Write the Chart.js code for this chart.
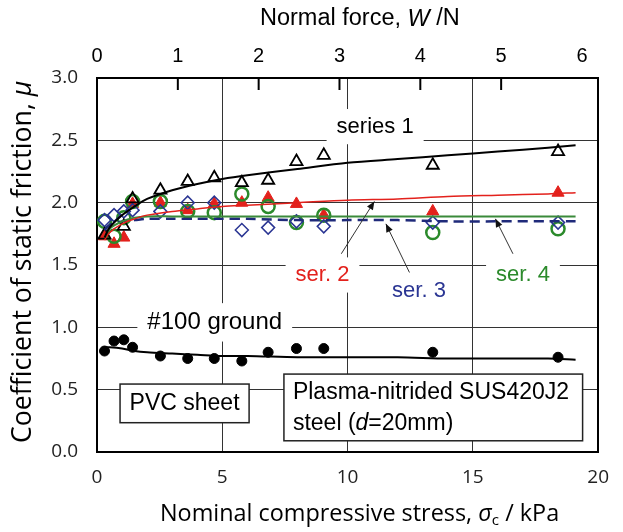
<!DOCTYPE html>
<html>
<head>
<meta charset="utf-8">
<script src="https://cdn.jsdelivr.net/npm/chart.js@4.4.1/dist/chart.umd.min.js"></script>
<style>
  html, body { margin: 0; padding: 0; background: #fff; }
  #wrap { width: 623px; height: 532px; }
</style>
</head>
<body>
<div id="wrap"><canvas id="myChart" width="623" height="532"></canvas></div>
<script>
// measured points (nominal stress in kPa)
var sigma = [0.3, 0.68, 1.07, 1.42, 2.53, 3.62, 4.68, 5.78, 6.83, 7.96, 9.05, 13.4, 18.4];
var series1 = [1.74, null, 1.81, 2.03, 2.10, 2.17, 2.20, 2.16, 2.18, 2.33, 2.38, 2.30, 2.41];
var series2 = [1.73, 1.67, 1.72, 1.99, 2.00, 1.94, 1.99, 2.00, 2.04, 1.99, 1.90, 1.93, 2.08];
var series3 = [1.86, 1.90, 1.93, 1.94, 1.93, 2.00, 2.00, 1.78, 1.80, 1.85, 1.81, 1.84, 1.84];
var series4 = [1.85, 1.73, 1.88, 2.01, 2.01, 1.93, 1.92, 2.07, 1.97, 1.84, 1.90, 1.76, 1.79];
var ground  = [0.81, 0.89, 0.90, 0.84, 0.77, 0.75, 0.75, 0.73, 0.80, 0.83, 0.83, 0.80, 0.76];

// fitted curves
var fitSigma = [0.3, 0.5, 1, 1.5, 2, 3, 4, 5, 6, 8, 10, 12, 14, 16, 18, 19.1];
var fit1 = [1.72, 1.80, 1.90, 1.97, 2.03, 2.10, 2.15, 2.19, 2.22, 2.27, 2.32, 2.35, 2.38, 2.41, 2.44, 2.46];
var fit2 = [1.70, 1.76, 1.83, 1.87, 1.90, 1.93, 1.95, 1.97, 1.98, 2.00, 2.02, 2.03, 2.05, 2.06, 2.07, 2.08];
var fit3 = [1.78, 1.82, 1.85, 1.86, 1.87, 1.87, 1.87, 1.87, 1.87, 1.86, 1.86, 1.86, 1.85, 1.85, 1.85, 1.85];
var fit4 = [1.72, 1.79, 1.85, 1.88, 1.89, 1.89, 1.89, 1.89, 1.89, 1.89, 1.89, 1.89, 1.89, 1.89, 1.89, 1.89];
var fitG = [0.84, 0.84, 0.83, 0.81, 0.80, 0.79, 0.78, 0.77, 0.77, 0.76, 0.76, 0.76, 0.75, 0.75, 0.75, 0.74];

var forceTicks = [0, 1, 2, 3, 4, 5, 6];
var forceMax = 6.2;

function pts(xs, ys) {
    return xs.map(function (x, i) { return { x: x, y: ys[i] }; });
}

var ARIAL = "'Liberation Sans', Arial, sans-serif";
var CAL = "'Open Sans', 'Noto Sans', sans-serif";

function fitLine(data, color, width, dash) {
    return {
        type: "line",
        data: data,
        borderColor: color,
        borderWidth: width,
        borderDash: dash || [],
        pointRadius: 0,
        fill: false,
        tension: 0.3
    };
}

function marks(data, style, stroke, fillc, radius, bw) {
    return {
        type: "scatter",
        data: data,
        pointStyle: style,
        borderColor: stroke,
        backgroundColor: fillc,
        pointRadius: radius,
        pointBorderWidth: bw,
        showLine: false
    };
}

// annotations, boxes and axis titles
var extras = {
    id: "extras",
    afterDatasetsDraw: function (chart) {
        var c = chart.ctx, xs = chart.scales.x, ys = chart.scales.y, top = chart.scales.x2;
        var area = chart.chartArea;
        function px(v) { return xs.getPixelForValue(v); }
        function py(v) { return ys.getPixelForValue(v); }

        // inner tick marks of the force axis
        c.save();
        c.strokeStyle = "#000";
        c.lineWidth = 2;
        for (var t = 1; t <= 5; t++) {
            var tx = top.getPixelForValue(t);
            c.beginPath(); c.moveTo(tx, area.top); c.lineTo(tx, area.top + 12); c.stroke();
        }
        c.restore();

        function label(text, x, y, color, size) {
            c.save();
            c.font = size + "px " + ARIAL;
            var w = c.measureText(text).width;
            c.fillStyle = "#fff";
            c.fillRect(x - w / 2 - 10, y - size * 0.8, w + 20, size * 1.6);
            c.fillStyle = color;
            c.textAlign = "center";
            c.textBaseline = "middle";
            c.fillText(text, x, y);
            c.restore();
        }
        function arrow(x0, y0, x1, y1) {
            var ax = px(x0), ay = py(y0), bx = px(x1), by = py(y1);
            var ang = Math.atan2(by - ay, bx - ax);
            c.save();
            c.strokeStyle = "#333"; c.fillStyle = "#111"; c.lineWidth = 1;
            c.beginPath(); c.moveTo(ax, ay); c.lineTo(bx, by); c.stroke();
            c.beginPath();
            c.moveTo(bx, by);
            c.lineTo(bx - 9 * Math.cos(ang - 0.4), by - 9 * Math.sin(ang - 0.4));
            c.lineTo(bx - 9 * Math.cos(ang + 0.4), by - 9 * Math.sin(ang + 0.4));
            c.closePath(); c.fill();
            c.restore();
        }
        function box(x0, y0, x1, y1) {
            c.save();
            c.fillStyle = "#fff";
            c.fillRect(x0, y0, x1 - x0, y1 - y0);
            c.strokeStyle = "#222"; c.lineWidth = 1.5;
            c.strokeRect(x0, y0, x1 - x0, y1 - y0);
            c.restore();
        }

        label("series 1", px(11.1), py(2.61), "#000", 22);
        label("ser. 2", px(9.0), py(1.42), "#e3211c", 22);
        label("ser. 3", px(12.85), py(1.29), "#2a3593", 22);
        label("ser. 4", px(17.0), py(1.42), "#2b8a2b", 22);
        label("#100 ground", px(4.7), py(1.04), "#000", 24);

        arrow(9.75, 1.59, 11.07, 2.01);
        arrow(12.47, 1.44, 11.53, 1.83);
        arrow(16.6, 1.59, 15.9, 1.87);

        // sample boxes
        box(px(0.92), py(0.545), px(6.07), py(0.235));
        box(px(7.46), py(0.625), px(19.38), py(0.09));
        c.save();
        c.fillStyle = "#000";
        c.textBaseline = "middle";
        c.font = "23px " + ARIAL;
        c.textAlign = "center";
        c.fillText("PVC sheet", (px(0.92) + px(6.07)) / 2, py(0.39));
        c.textAlign = "left";
        var lx = px(7.46) + 9;
        c.fillText("Plasma-nitrided SUS420J2", lx, py(0.48));
        var yy = py(0.23);
        var s1 = "steel (";
        c.fillText(s1, lx, yy);
        var w = c.measureText(s1).width;
        c.font = "italic 23px " + ARIAL;
        c.fillText("d", lx + w, yy);
        w += c.measureText("d").width;
        c.font = "23px " + ARIAL;
        c.fillText("=20mm)", lx + w, yy);
        c.restore();
    },
    afterDraw: function (chart) {
        var c = chart.ctx;
        // runs of text with mixed styles, sized to a target width
        function runs(parts, cx, cy, target) {
            var total = 0;
            parts.forEach(function (p) { c.font = p.s + " 20px " + p.f; total += c.measureText(p.t).width * p.k; });
            var k = target / total;
            var x = cx - target / 2;
            parts.forEach(function (p) {
                c.font = p.s + " " + (20 * k * p.k).toFixed(1) + "px " + p.f;
                c.fillText(p.t, x, cy + (p.dy || 0) * k);
                x += c.measureText(p.t).width;
            });
        }
        c.save();
        c.fillStyle = "#000";
        c.textBaseline = "middle";
        c.textAlign = "left";
        runs([
            { t: "Normal force, ", s: "", f: ARIAL, k: 1 },
            { t: "W", s: "italic", f: ARIAL, k: 1 },
            { t: " /N", s: "", f: ARIAL, k: 1 }
        ], 360, 19, 200);
        runs([
            { t: "Nominal compressive stress, ", s: "", f: CAL, k: 1 },
            { t: "σ", s: "italic", f: CAL, k: 1 },
            { t: "c", s: "", f: CAL, k: 0.65, dy: 6 },
            { t: " / kPa", s: "", f: CAL, k: 1 }
        ], 360, 514, 400);
        c.translate(23, 262);
        c.rotate(-Math.PI / 2);
        runs([
            { t: "Coefficient of static friction, ", s: "", f: CAL, k: 1 },
            { t: "μ", s: "italic", f: CAL, k: 1 }
        ], 0, 0, 362);
        c.restore();
    }
};

var ctx = document.getElementById("myChart").getContext("2d");

var myChart = new Chart(ctx, {
    type: "scatter",
    data: {
        datasets: [
            fitLine(pts(fitSigma, fit1), "#000", 2),
            fitLine(pts(fitSigma, fit2), "#e3211c", 1.5),
            fitLine(pts(fitSigma, fit4), "#3a8a3a", 2),
            fitLine(pts(fitSigma, fit3), "#1f2a7a", 2.5, [10, 6]),
            fitLine(pts(fitSigma, fitG), "#000", 2),
            marks(pts(sigma, series1), "triangle", "#000", "transparent", 7, 1.8),
            marks(pts(sigma, series3), "rectRot", "#2a3593", "transparent", 6.5, 1.5),
            marks(pts(sigma, series4), "circle", "#2b8a2b", "transparent", 6.5, 2.5),
            marks(pts(sigma, series2), "triangle", "#e3211c", "#e3211c", 7, 1),
            marks(pts(sigma, ground), "circle", "#000", "#000", 5, 1)
        ]
    },
    options: {
        responsive: false,
        animation: false,
        layout: { padding: { right: 11, left: 0, top: 0, bottom: 0 } },
        plugins: {
            legend: { display: false },
            tooltip: { enabled: false }
        },
        scales: {
            x: {
                type: "linear",
                position: "bottom",
                min: 0, max: 20,
                afterFit: function (s) { s.height = 80; },
                ticks: { stepSize: 5, padding: 14, color: "#222", font: { family: CAL, size: 19 } },
                grid: { color: "#333", lineWidth: 1, drawTicks: false },
                border: { color: "#000", width: 2 }
            },
            x2: {
                type: "linear",
                position: "top",
                min: 0, max: forceMax,
                afterFit: function (s) { s.height = 78; },
                afterBuildTicks: function (s) {
                    s.ticks = forceTicks.map(function (v) { return { value: v }; });
                },
                ticks: { padding: 10, color: "#000", font: { family: ARIAL, size: 20 } },
                grid: { display: false, drawTicks: false },
                border: { color: "#000", width: 2 }
            },
            y: {
                min: 0, max: 3,
                afterFit: function (s) { s.width = 97; },
                ticks: { stepSize: 0.5, padding: 19, color: "#222", font: { family: CAL, size: 19 },
                    callback: function (v) { return v.toFixed(1); } },
                grid: { color: "#333", lineWidth: 1, drawTicks: false },
                border: { color: "#000", width: 2 }
            },
            y2: {
                position: "right",
                min: 0, max: 3,
                afterFit: function (s) { s.width = 0; },
                ticks: { display: false },
                grid: { display: false, drawTicks: false },
                border: { color: "#000", width: 2 }
            }
        }
    },
    plugins: [extras]
});
</script>
</body>
</html>
